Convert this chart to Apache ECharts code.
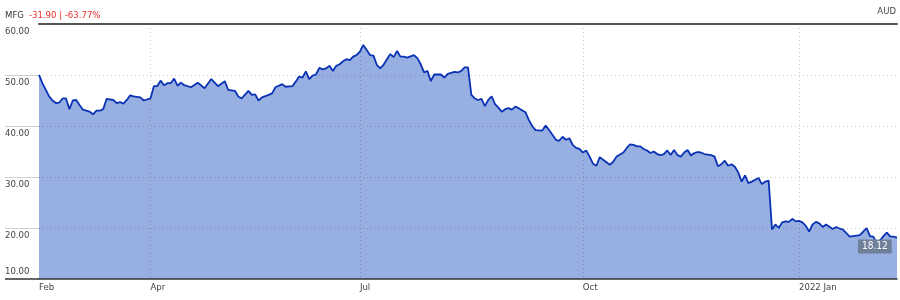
<!DOCTYPE html>
<html>
<head>
<meta charset="utf-8">
<script src="https://cdn.jsdelivr.net/npm/echarts@6/dist/echarts.min.js"></script>
<style>
html,body{margin:0;padding:0;background:#fff;}
#chart{width:900px;height:300px;}
</style>
</head>
<body>
<div id="chart"></div>
<script>
// Trading-day index (0 = first day shown) and closing prices (AUD)
const days = [0,1,3,4,5,6,7,8,9,10,11,12,13,15,16,17,18,19,20,22,23,24,25,26,27,28,30,31,33,34,35,36,37,38,39,40,41,42,43,45,47,49,51,53,55,56,58,59,60,62,63,64,65,66,68,69,70,72,73,75,76,77,78,79,80,81,82,83,84,85,86,87,88,89,90,91,92,93,94,95,96,97,98,99,100,101,102,103,104,105,106,107,108,109,111,112,113,114,115,116,117,119,120,121,123,124,125,126,127,128,129,130,131,132,133,134,135,136,137,138,139,140,141,142,144,145,146,147,149,150,151,152,153,154,155,156,157,158,159,160,161,162,163,164,165,166,167,169,170,171,173,174,175,176,177,178,179,180,181,182,183,184,185,186,187,188,189,190,191,192,193,194,195,196,197,199,200,201,202,203,204,205,206,207,208,209,210,211,213,214,215,216,217,218,219,220,221,222,223,224,225,226,227,228,229,230,231,232,233,235,236,237,238,239,240,242,243,244,245,246,247,248,249,250,251,252,253,254];
const prices = [50.02,48.4,45.8,45.0,44.5,44.6,45.4,45.4,43.3,45.0,45.1,44.1,43.2,42.8,42.3,43.0,43.0,43.3,45.3,45.1,44.5,44.7,44.4,45.1,46.0,45.8,45.6,45.0,45.4,47.8,47.8,48.9,48.0,48.4,48.4,49.3,47.9,48.5,48.0,47.6,48.5,47.4,49.2,47.8,48.8,47.1,46.9,45.8,45.4,46.9,46.1,46.2,45.0,45.6,46.1,46.4,47.6,48.2,47.7,47.8,48.7,49.7,49.5,50.7,49.2,49.9,50.1,51.4,51.1,51.3,51.8,50.8,51.8,52.1,52.7,53.1,52.9,53.6,53.9,54.6,55.9,54.9,53.9,53.8,52.0,51.3,52.0,53.1,54.1,53.5,54.7,53.6,53.6,53.4,53.9,53.3,52.1,50.5,50.8,48.8,50.1,50.1,49.5,50.2,50.6,50.5,50.8,51.5,51.5,46.1,45.4,45.1,45.3,43.9,45.1,45.8,44.3,43.6,42.8,43.3,43.5,43.2,43.8,43.5,42.7,41.2,40.0,39.2,39.1,40.1,39.2,38.3,37.3,37.1,37.9,37.3,37.6,36.3,35.7,35.5,34.8,35.2,34.0,32.6,32.2,33.9,33.4,32.4,33.0,34.0,34.8,35.7,36.4,36.3,36.0,36.0,35.5,35.2,34.7,35.0,34.5,34.3,34.5,35.2,34.3,35.3,34.3,34.0,34.8,35.3,34.2,34.7,34.9,34.8,34.5,34.3,34.0,32.1,32.5,33.2,32.2,32.5,32.0,30.9,29.1,30.3,28.8,29.1,29.8,28.6,29.1,29.3,19.7,20.7,20.0,21.1,21.3,21.2,21.8,21.3,21.4,21.1,20.4,19.3,20.7,21.2,20.9,20.2,20.7,19.8,20.2,19.9,19.7,19.0,18.3,18.5,18.6,19.3,20.0,18.4,18.3,17.0,17.6,18.4,19.1,18.3,18.3,18.12];

// Month tick labels and the trading-day index where each month begins
const monthLabels = ['Feb','Apr','Jul','Oct','2022 Jan'];
const monthDays = [0,33,95,161,225];

// Y-axis tick labels
const yTicks = [10,20,30,40,50,60];

const ticker = 'MFG';
const changeText = '-31.90 | -63.77%';
const currency = 'AUD';

const FONT = "'Liberation Sans Narrow','DejaVu Sans Condensed','Arial Narrow',sans-serif";
const FS = 9.5;
const GRID_COLOR = 'rgba(0,0,0,0.2)';
const lastDay = days[days.length - 1];
const seriesData = days.map((d, i) => [d, prices[i]]);

const chart = echarts.init(document.getElementById('chart'), null, {renderer: 'canvas'});
chart.setOption({
  animation: false,
  backgroundColor: '#ffffff',
  title: [{
    left: 5, top: 7, padding: 0,
    text: '{t|' + ticker + '} {c|' + changeText + '}',
    textStyle: {
      fontWeight: 'normal',
      rich: {
        t: {fontFamily: FONT, fontSize: FS, fontWeight: 'normal', color: '#333333'},
        c: {fontFamily: FONT, fontSize: FS, fontWeight: 'normal', color: '#f0302f'}
      }
    }
  }, {
    right: 4, top: 7, padding: 0,
    text: currency,
    textStyle: {fontFamily: FONT, fontSize: FS, fontWeight: 'normal', color: '#444444'}
  }],
  grid: {left: 39, right: 3, top: 24, bottom: 21, containLabel: false},
  xAxis: [{
    type: 'value', min: 0, max: lastDay, position: 'bottom', z: 5,
    axisLine: {show: true, lineStyle: {color: '#333333', width: 1.5}},
    axisTick: {show: false, customValues: monthDays.slice(1)},
    splitLine: {show: true, lineStyle: {color: GRID_COLOR, type: [1, 3], width: 1}},
    axisLabel: {
      show: true, customValues: monthDays, align: 'left', margin: 4,
      fontFamily: FONT, fontSize: FS, color: '#444444',
      formatter: v => monthLabels[monthDays.indexOf(v)] || ''
    }
  }, {
    type: 'value', min: 0, max: lastDay, position: 'top', z: 5,
    axisLine: {show: true, lineStyle: {color: '#555555', width: 2}},
    axisTick: {show: false}, axisLabel: {show: false}, splitLine: {show: false}
  }],
  yAxis: [{
    type: 'value', min: yTicks[0], max: yTicks[yTicks.length - 1], position: 'left', z: 5,
    axisLine: {show: false},
    axisTick: {show: true, inside: false, length: 34, customValues: yTicks.slice(1, -1),
      lineStyle: {color: '#cfcfcf', width: 1}},
    splitLine: {show: true, lineStyle: {color: GRID_COLOR, type: [1, 3], width: 1}},
    axisLabel: {
      show: true, customValues: yTicks.slice(1), align: 'left', verticalAlign: 'top',
      margin: 34, padding: [3, 0, 0, 0],
      fontFamily: FONT, fontSize: FS, color: '#444444',
      formatter: v => v.toFixed(2)
    }
  }, {
    type: 'value', min: yTicks[0], max: yTicks[yTicks.length - 1], position: 'left', z: 5,
    axisLine: {show: false},
    axisTick: {show: true, inside: false, length: 34, customValues: [yTicks[0]],
      lineStyle: {color: '#333333', width: 1.5}},
    splitLine: {show: false},
    axisLabel: {
      show: true, customValues: [yTicks[0]], align: 'left', verticalAlign: 'bottom',
      margin: 34, padding: [0, 0, 2, 0],
      fontFamily: FONT, fontSize: FS, color: '#444444',
      formatter: v => v.toFixed(2)
    }
  }],
  series: [{
    // filled area (below the grid lines)
    type: 'line',
    xAxisIndex: 0, yAxisIndex: 0,
    data: seriesData,
    showSymbol: false, symbol: 'none',
    lineStyle: {width: 0, opacity: 0},
    areaStyle: {color: '#98afe1', opacity: 1, origin: 'start'},
    z: 1
  }, {
    // price line (above the grid lines)
    type: 'line',
    xAxisIndex: 0, yAxisIndex: 0,
    data: seriesData,
    showSymbol: false, symbol: 'none',
    lineStyle: {color: '#0a32b4', width: 1.8},
    endLabel: {
      show: true,
      formatter: p => p.value[1].toFixed(2),
      fontFamily: FONT, fontSize: 10, color: '#ffffff',
      backgroundColor: '#6f8099',
      padding: [2, 4, 2, 4],
      distance: 0,
      offset: [-39, 9]
    },
    z: 10
  }]
});
</script>
</body>
</html>
